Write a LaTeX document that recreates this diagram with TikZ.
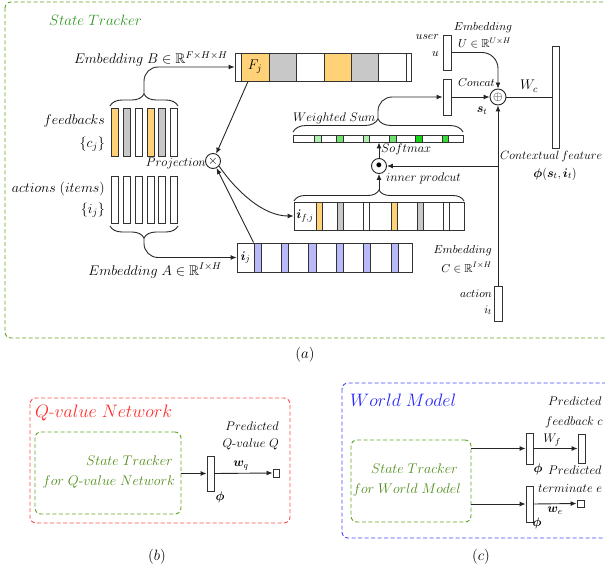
\RequirePackage{fix-cm}
\documentclass[tikz,border=0pt]{standalone}
\usepackage{amsmath,amssymb,bm}
\usetikzlibrary{arrows.meta,decorations.pathreplacing,calc}
\newcommand\fsT{\fontsize{18}{20}\selectfont}
\newcommand\fsH{\fontsize{15}{17}\selectfont}
\newcommand\fsL{\fontsize{14}{16}\selectfont}
\newcommand\fsM{\fontsize{12.5}{14}\selectfont}
\newcommand\fsC{\fontsize{12}{14}\selectfont}
\newcommand\fsS{\fontsize{11.5}{13}\selectfont}
\newcommand\rbox[7][]{\node[bar,#1,minimum width={(#4-#2)*1pt},minimum height={(#5-#3)*1pt}] (#6) at ({(#2+#4)/2},{(#3+#5)/2}) {#7};}
\definecolor{cOr}{RGB}{255,210,120}
\definecolor{cGr}{RGB}{200,200,200}
\definecolor{cBl}{RGB}{185,185,250}
\definecolor{cGa}{RGB}{175,240,175}
\definecolor{cGb}{RGB}{110,225,110}
\definecolor{cGc}{RGB}{20,215,20}
\definecolor{stGreen}{RGB}{50,150,40}
\definecolor{boxGreen}{RGB}{95,165,35}
\definecolor{oliveG}{RGB}{80,140,25}
\definecolor{qRed}{RGB}{255,45,45}
\definecolor{wBlue}{RGB}{40,40,255}
\tikzset{
  bar/.style={draw=black!80, line width=0.9pt, inner sep=0pt, rectangle, fill=white},
  conn/.style={line width=0.9pt, draw=black!85},
  arr/.style={conn, -{Latex[length=6pt,width=5pt]}},
  opc/.style={circle, draw=black!85, line width=0.9pt, inner sep=0pt, minimum size=15pt, fill=white},
  brc/.style={conn, decorate, decoration={brace, amplitude=#1}},
  brc/.default=10pt,
  dashbox/.style={line width=0.9pt, dash pattern=on 4pt off 2.5pt, rounded corners=6pt},
  gbox/.style={dashbox, draw=boxGreen, fill=none},
  lb/.style={inner sep=0pt},
}
\begin{document}
\begin{tikzpicture}[x=1pt,y=-1pt]
\useasboundingbox (0,0) rectangle (605,575);
\clip (0,0) rectangle (605,575);

% ---------------- (a) ----------------
\draw[dashbox, draw=boxGreen] (5,2) rectangle (612,338);
\node[lb, anchor=base west, font=\fsH, text=stGreen] (tST) at (49,26) {$State\;Tracker$};

% feedback embedding bar
\rbox{235}{53}{241}{81}{F0}{}
\rbox[fill=cOr,font=\fsL]{241}{53}{269}{81}{F1}{$F_j$}
\rbox[fill=cGr]{269}{53}{296}{81}{F2}{}
\rbox{296}{53}{324}{81}{F3}{}
\rbox[fill=cOr]{324}{53}{351}{81}{F4}{}
\rbox[fill=cGr]{351}{53}{378}{81}{F5}{}
\rbox{378}{53}{406}{81}{F6}{}
\rbox{406}{53}{411}{81}{F7}{}
\node[lb, anchor=base east, font=\fsL] (lEB) at (228,64) {$Embedding\;B\in\mathbb{R}^{F\times H\times H}$};

% feedbacks
\rbox[fill=cOr]{111}{108}{118}{156}{fb1}{}
\rbox[fill=cGr]{123}{108}{130}{156}{fb2}{}
\rbox{135}{108}{142}{156}{fb3}{}
\rbox[fill=cOr]{147}{108}{154}{156}{fb4}{}
\rbox[fill=cGr]{158}{108}{165}{156}{fb5}{}
\rbox{170}{108}{177}{156}{fb6}{}
\node[lb, anchor=base east, font=\fsL] (lfb) at (105,125) {$feedbacks$};
\node[lb, anchor=base east, font=\fsL] (lcj) at (105,147) {$\{c_j\}$};
\draw[brc=12pt] (110,106) -- (178,106);
\coordinate (fbtip) at (144,94);
\draw[arr, rounded corners=14pt] (fbtip) |- (F0.west);

% actions
\rbox{111}{176}{118}{223}{ac1}{}
\rbox{123}{176}{130}{223}{ac2}{}
\rbox{135}{176}{142}{223}{ac3}{}
\rbox{147}{176}{154}{223}{ac4}{}
\rbox{158}{176}{165}{223}{ac5}{}
\rbox{170}{176}{177}{223}{ac6}{}
\node[lb, anchor=base east, font=\fsL] (lac) at (105,193) {$actions\;(items)$};
\node[lb, anchor=base east, font=\fsL] (lij) at (105,213) {$\{i_j\}$};
\draw[brc=12pt] (178,226) -- (110,226);
\coordinate (abtip) at (144,238);

% item embedding bar
\rbox[font=\fsM]{237}{243}{254}{272}{ij0}{$\bm{i}_j$}
\rbox[fill=cBl]{254}{243}{261}{272}{ij1}{}
\rbox{261}{243}{281}{272}{ij2}{}
\rbox[fill=cBl]{281}{243}{288}{272}{ij3}{}
\rbox{288}{243}{308}{272}{ij4}{}
\rbox[fill=cBl]{308}{243}{316}{272}{ij5}{}
\rbox{316}{243}{336}{272}{ij6}{}
\rbox[fill=cBl]{336}{243}{343}{272}{ij7}{}
\rbox{343}{243}{363}{272}{ij8}{}
\rbox[fill=cBl]{363}{243}{370}{272}{ij9}{}
\rbox{370}{243}{391}{272}{ij10}{}
\rbox[fill=cBl]{391}{243}{398}{272}{ij11}{}
\rbox{398}{243}{412}{272}{ij12}{}
\node[lb, anchor=base east, font=\fsL] (lEA) at (222,275) {$Embedding\;A\in\mathbb{R}^{I\times H}$};
\draw[arr, rounded corners=14pt] (abtip) |- (ij0.west);

% projection
\node[opc, font=\fsM] (proj) at (213,161) {$\times$};
\node[lb, anchor=base east, font=\fsM] (lproj) at (206,167) {$Projection$};
\draw[arr] ([xshift=-7pt]F1.south) -- (proj);
\draw[arr] (ij1.north west) -- (proj);

% projected item bar
\rbox[font=\fsM]{294}{202}{316}{230}{fj0}{$\bm{i}_{f,j}$}
\rbox[fill=cOr]{316}{202}{322}{230}{fj1}{}
\rbox{322}{202}{337}{230}{fj2}{}
\rbox[fill=cGr]{337}{202}{343}{230}{fj3}{}
\rbox{343}{202}{363}{230}{fj4}{}
\rbox{363}{202}{369}{230}{fj5}{}
\rbox{369}{202}{391}{230}{fj6}{}
\rbox[fill=cOr]{391}{202}{397}{230}{fj7}{}
\rbox{397}{202}{417}{230}{fj8}{}
\rbox[fill=cGr]{417}{202}{423}{230}{fj9}{}
\rbox{423}{202}{443}{230}{fj10}{}
\rbox{443}{202}{449}{230}{fj11}{}
\rbox{449}{202}{464}{230}{fj12}{}
\draw[arr] (proj.-40) .. controls +(18,26) and +(-30,0) .. (fj0.west);
\draw[brc=11pt] (294,201) -- (464,201);
\coordinate (fjtip) at (379,190);

% inner product and softmax
\node[opc, font=\fsM] (dot) at (379,166) {$\bullet$};
\node[lb, anchor=base west, font=\fsM] (linp) at (386,181) {$inner\;prodcut$};
\draw[arr] (fjtip) -- (dot);

\rbox{293}{135}{463}{142}{ws0}{}
\rbox[fill=cGa]{314}{135}{321}{142}{g1}{}
\rbox[fill=cGb]{336}{135}{343}{142}{g2}{}
\rbox[fill=cGa]{363}{135}{369}{142}{g3}{}
\rbox[fill=cGb]{389}{135}{396}{142}{g4}{}
\rbox[fill=cGc]{415}{135}{422}{142}{g5}{}
\rbox[fill=cGc!85!white]{442}{135}{448}{142}{g6}{}
\draw[arr] (dot) -- (dot |- ws0.south);
\node[lb, anchor=base west, font=\fsM] (lsm) at (381,153) {$Softmax$};
\draw[brc=13pt] (293,132) -- (463,132);
\coordinate (wstip) at (378,119);
\node[lb, anchor=base west, font=\fsM] (lws) at (293,122) {$Weighted\;Sum$};

% user, state, concat
\rbox{443}{35}{451}{70}{u}{}
\rbox{443}{79}{451}{115}{st}{}
\rbox{552}{46}{559}{148}{Wc}{}
\rbox{494}{286}{502}{321}{act}{}
\node[opc, font=\fsM, minimum size=16pt] (oplus) at (498,97) {$\oplus$};
\draw[arr, rounded corners=14pt] (wstip) |- (st.west);
\draw[arr] (st.east) -- (oplus.west);
\draw[arr, rounded corners=16pt] (u.east) -| (oplus.north);
\draw[conn] (oplus.east) -- (Wc.west);
\draw[arr] (act.north) -- (oplus.south);
\draw[arr] (act.north |- dot) -- (dot.east);

\node[lb, anchor=base east, font=\fsS] (luser) at (439,40) {$user$};
\node[lb, anchor=base east, font=\fsS] (lu) at (439,57) {$u$};
\node[lb, anchor=base, font=\fsS] (lEU) at (483,31) {$Embedding$};
\node[lb, anchor=base west, font=\fsS] (lEU2) at (458,48) {$U\in\mathbb{R}^{U\times H}$};
\node[lb, anchor=base west, font=\fsS] (lcc) at (458,87) {$Concat$};
\node[lb, font=\fsM] (lst) at (482,111) {$\bm{s}_t$};
\node[lb, anchor=base west, font=\fsL] (lWc) at (520,90) {$W_c$};
\node[lb, anchor=base west, font=\fsC] (lcf) at (500,160) {$Contextual\,feature$};
\node[lb, anchor=base, font=\fsM] (lphi) at (555,177) {$\bm{\phi}(\bm{s}_t,\bm{i}_t)$};
\node[lb, anchor=base east, font=\fsS] (lEC) at (492,253) {$Embedding$};
\node[lb, anchor=base east, font=\fsS] (lEC2) at (492,272) {$C\in\mathbb{R}^{I\times H}$};
\node[lb, anchor=base east, font=\fsS] (lact) at (492,297) {$action$};
\node[lb, anchor=base east, font=\fsS] (lit) at (492,313) {$i_t$};

\node[lb, font=\fsH] (capa) at (305,355) {$(a)$};

% ---------------- (b) ----------------
\draw[dashbox, draw=qRed!85] (30,398) rectangle (290,523);
\node[lb, anchor=base west, font=\fsT, text=qRed] (tQ) at (35,417) {$Q\text{-}value\;Network$};
\rbox[gbox]{35}{432}{181}{514}{qst}{}
\node[lb, anchor=base east, font=\fsL, text=oliveG] (lq1) at (173,465) {$State\;Tracker$};
\node[lb, anchor=base east, font=\fsL, text=oliveG] (lq2) at (175,485) {$for\;Q\text{-}value\;Network$};
\rbox{207}{456}{214}{491}{qphi}{}
\rbox{273}{469}{279}{477}{qout}{}
\draw[arr] (qst.east |- qphi) -- (qphi.west);
\draw[arr] (qphi.east) -- (qout.west);
\node[lb, font=\fsM] (lqphi) at (220,497) {$\bm{\phi}$};
\node[lb, font=\fsM] (lwq) at (241,466) {$\bm{w}_q$};
\node[lb, anchor=base east, font=\fsM] (lpq1) at (279,430) {$Predicted$};
\node[lb, anchor=base east, font=\fsM] (lpq2) at (279,447) {$Q\text{-}value\;Q$};
\node[lb, font=\fsH] (capb) at (157,557) {$(b)$};

% ---------------- (c) ----------------
\draw[dashbox, draw=wBlue!85] (342,383) rectangle (612,538);
\node[lb, anchor=base west, font=\fsT, text=wBlue] (tW) at (350,406) {$World\;Model$};
\rbox[gbox]{351}{440}{471}{522}{wst}{}
\node[lb, anchor=base east, font=\fsL, text=oliveG] (lw1) at (458,473) {$State\;Tracker$};
\node[lb, anchor=base east, font=\fsL, text=oliveG] (lw2) at (461,493) {$for\;World\;Model$};
\rbox{526}{433}{533}{464}{wphi1}{}
\rbox{578}{434}{585}{463}{wfb}{}
\rbox{526}{486}{533}{522}{wphi2}{}
\rbox{577}{500}{584}{507}{wout}{}
\draw[arr] (wst.east |- wphi1) -- (wphi1.west);
\draw[arr] (wphi1.east) -- (wfb.west);
\draw[arr] (wst.east |- wphi2) -- (wphi2.west);
\draw[arr] (wphi2.east) -- (wout.west);
\node[lb, font=\fsM] (lWf) at (552,440) {$W_f$};
\node[lb, font=\fsM] (lwp1) at (538,469) {$\bm{\phi}$};
\node[lb, font=\fsM] (lwe) at (555,511) {$\bm{w}_e$};
\node[lb, font=\fsM] (lwp2) at (537,523) {$\bm{\phi}$};
\node[lb, anchor=base west, font=\fsM] (lpf1) at (548,405) {$Predicted$};
\node[lb, anchor=base west, font=\fsM] (lpf2) at (545,425) {$feedback\;c$};
\node[lb, anchor=base west, font=\fsM] (lpt1) at (548,474) {$Predicted$};
\node[lb, anchor=base west, font=\fsM] (lpt2) at (538,492) {$terminate\;e$};
\node[lb, font=\fsH] (capc) at (481,557) {$(c)$};
\end{tikzpicture}
\end{document}
